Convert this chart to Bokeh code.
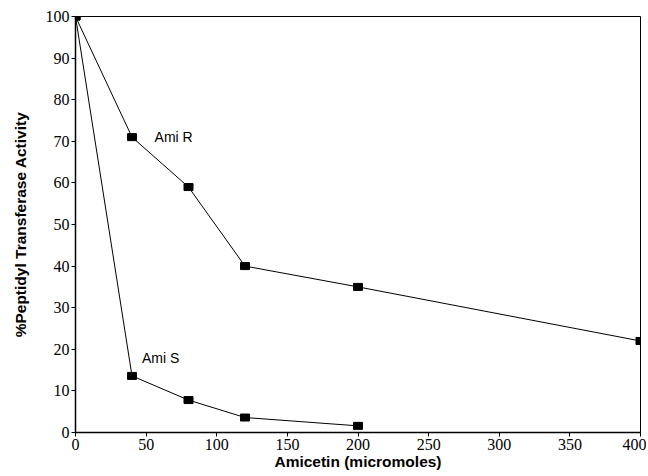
from bokeh.plotting import figure
from bokeh.models import Range1d, Label, FixedTicker
from bokeh.embed import file_html
from bokeh.resources import INLINE

conc_r = [0, 40, 80, 120, 200, 400]
ami_r = [100, 71, 59, 40, 35, 22]
conc_s = [0, 40, 80, 120, 200]
ami_s = [100, 13.6, 7.8, 3.6, 1.6]
x_ticks = [0, 50, 100, 150, 200, 250, 300, 350, 400]
y_ticks = [0, 10, 20, 30, 40, 50, 60, 70, 80, 90, 100]

p = figure(width=646, height=474, output_backend="svg", toolbar_location=None,
           x_range=Range1d(0, 400), y_range=Range1d(0, 100),
           min_border_left=75, min_border_right=6, min_border_top=16, min_border_bottom=42)
p.xgrid.visible = False
p.ygrid.visible = False
p.outline_line_color = "black"
p.outline_line_width = 1
p.background_fill_color = "white"
p.border_fill_color = "white"

for ax in (p.xaxis[0], p.yaxis[0]):
    ax.axis_line_color = "black"
    ax.axis_line_width = 1.5
    ax.major_tick_in = 0
    ax.major_tick_out = 4
    ax.minor_tick_line_color = None
    ax.major_label_text_font = "Liberation Serif"
    ax.major_label_text_font_size = "16px"
    ax.major_label_text_color = "black"
    ax.axis_label_text_font = "Liberation Sans"
    ax.axis_label_text_font_style = "bold"
    ax.axis_label_text_font_size = "15.5px"
    ax.axis_label_text_color = "black"

p.xaxis.ticker = FixedTicker(ticks=x_ticks)
p.yaxis.ticker = FixedTicker(ticks=y_ticks)
p.xaxis.axis_label = "Amicetin (micromoles)"
p.yaxis.axis_label = "%Peptidyl Transferase Activity"
p.xaxis.major_label_standoff = 2
p.xaxis.axis_label_standoff = 0
p.yaxis.major_label_standoff = 2
p.yaxis.axis_label_standoff = 14

p.line(conc_r, ami_r, line_color="black", line_width=1)
p.line(conc_s, ami_s, line_color="black", line_width=1)
p.rect(conc_r, ami_r, width=9, height=7, width_units="screen", height_units="screen",
       fill_color="black", line_color="black")
p.rect(conc_s, ami_s, width=9, height=7, width_units="screen", height_units="screen",
       fill_color="black", line_color="black")

p.add_layout(Label(x=56, y=71, text="Ami R", text_font="Liberation Sans",
                   text_font_size="14px", text_baseline="middle", text_color="black"))
p.add_layout(Label(x=47, y=18, text="Ami S", text_font="Liberation Sans",
                   text_font_size="14px", text_baseline="middle", text_color="black"))

open("out.html", "w").write(file_html(p, INLINE))
